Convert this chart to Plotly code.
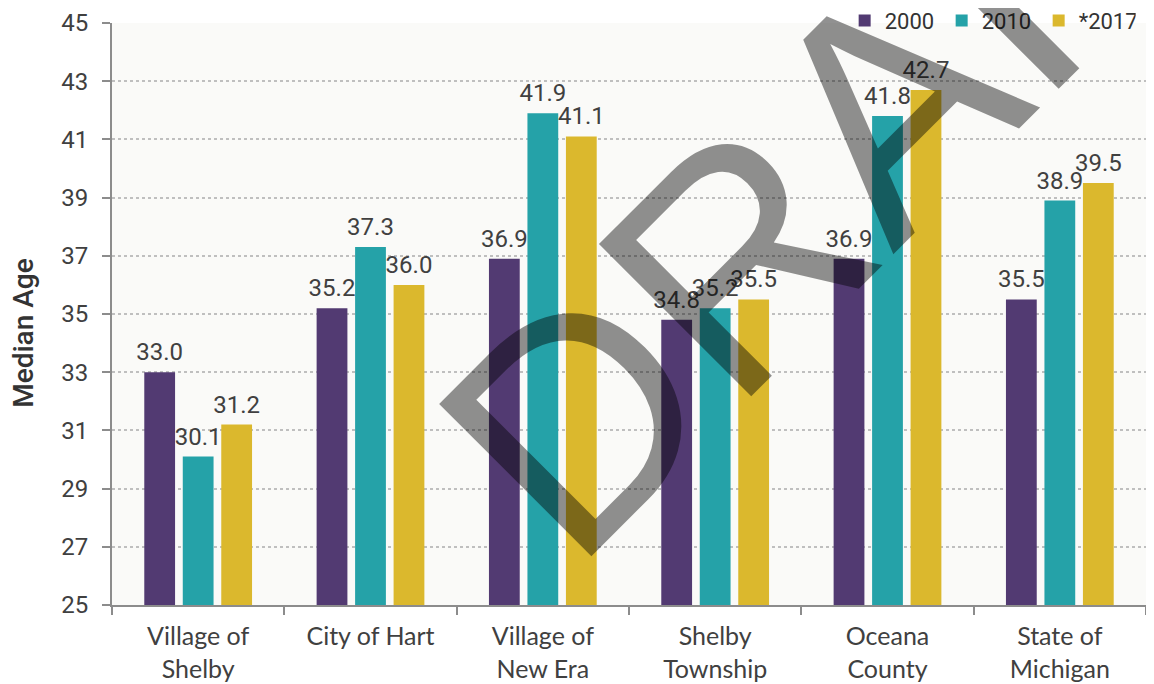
import plotly.graph_objects as go

categories = ["Village of<br>Shelby", "City of Hart", "Village of<br>New Era",
              "Shelby<br>Township", "Oceana<br>County", "State of<br>Michigan"]
series_names = ["2000", "2010", "*2017"]
values_2000 = [33.0, 35.2, 36.9, 34.8, 36.9, 35.5]
values_2010 = [30.1, 37.3, 41.9, 35.2, 41.8, 38.9]
values_2017 = [31.2, 36.0, 41.1, 35.5, 42.7, 39.5]
colors = ["#523A72", "#25A2A8", "#DBB82D"]
y_ticks = [25, 27, 29, 31, 33, 35, 37, 39, 41, 43, 45]

fig = go.Figure()
all_vals = [values_2000, values_2010, values_2017]
for name, vals, col in zip(series_names, all_vals, colors):
    fig.add_trace(go.Bar(
        x=categories, y=vals, name=name, marker_color=col, marker_line_width=0,
        offsetgroup=name,
    ))
for name, vals, col in zip(series_names, all_vals, colors):
    fig.add_trace(go.Scatter(
        x=categories, y=vals, mode="markers+text", showlegend=False,
        offsetgroup=name,
        marker=dict(size=8, color="rgba(0,0,0,0)"),
        text=[f"{v:.1f}" for v in vals], textposition="top center",
        textfont=dict(family="Roboto", size=24, color="#404040"),
        cliponaxis=False, hoverinfo="skip",
    ))

fig.update_layout(
    width=1138, height=676,
    margin=dict(l=104, r=0, t=15, b=79, autoexpand=False),
    paper_bgcolor="white", plot_bgcolor="#FAFAF8",
    barmode="group", bargap=0.33, bargroupgap=0.2,
    scattermode="group", scattergap=0.33,
    showlegend=True,
    legend=dict(orientation="h", x=0.99, xanchor="right", y=1.004, yanchor="middle",
                bgcolor="rgba(0,0,0,0)", font=dict(family="Roboto", size=22, color="#333333"),
                itemwidth=30, entrywidth=52, entrywidthmode="pixels"),
    font=dict(family="Roboto", color="#404040"),
)
fig.update_xaxes(
    type="category", tickson="boundaries", ticks="outside", ticklen=8, tickwidth=2,
    tickcolor="#8C8C8C", showline=True, linecolor="#8C8C8C", linewidth=2,
    showgrid=False, tickfont=dict(family="Lato", size=25, color="#404040"),
    ticklabelstandoff=8, automargin=False,
)
fig.update_yaxes(
    range=[25, 45], tickvals=y_ticks, ticks="outside", ticklen=8, tickwidth=2,
    tickcolor="#8C8C8C", showline=True, linecolor="#8C8C8C", linewidth=2,
    showgrid=True, gridcolor="#BFBFBF", gridwidth=1.5, griddash="dot",
    tickfont=dict(family="Roboto", size=24, color="#404040"),
    ticklabelstandoff=9, zeroline=False, automargin=False,
)

# y-axis title (placed slightly below the axis middle, as in the original)
fig.add_annotation(
    text="Median Age", xref="paper", yref="paper", x=-0.0851, y=0.466,
    xanchor="center", yanchor="middle", showarrow=False, textangle=-90,
    font=dict(family="Roboto", size=28, color="#333333", weight=500),
)

fig.add_annotation(
    text="DRAFT", xref="paper", yref="paper", x=0.729, y=0.818,
    xanchor="center", yanchor="middle", showarrow=False, textangle=-45,
    font=dict(family="Liberation Sans", size=313, color="rgba(0,0,0,0.43)"),
)

fig.write_html("out.html")
